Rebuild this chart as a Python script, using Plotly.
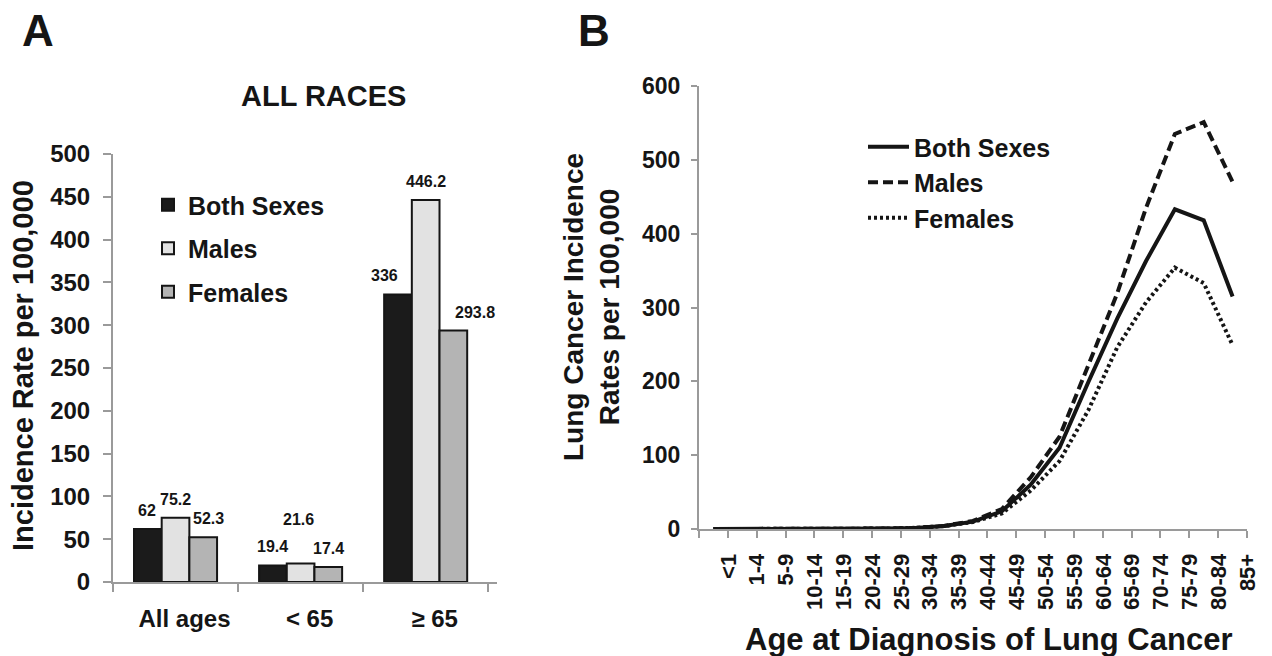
import plotly.graph_objects as go

# ---------------- data ----------------
groups = ["All ages", "< 65", "≥ 65"]
series_names = ["Both Sexes", "Males", "Females"]
bar_both = [62, 19.4, 336]
bar_males = [75.2, 21.6, 446.2]
bar_females = [52.3, 17.4, 293.8]

ages = ["<1", "1-4", "5-9", "10-14", "15-19", "20-24", "25-29", "30-34", "35-39",
        "40-44", "45-49", "50-54", "55-59", "60-64", "65-69", "70-74", "75-79",
        "80-84", "85+"]
line_both = [0.0, 0.0, 0.0, 0.0, 0.1, 0.3, 0.6, 1.5, 4.0, 10, 24, 60, 110, 199, 285, 363, 433, 418, 315]
line_males = [0.0, 0.0, 0.0, 0.0, 0.1, 0.3, 0.6, 1.5, 4.2, 11, 27, 70, 125, 222, 319, 435, 535, 551, 470]
line_females = [0.0, 0.0, 0.0, 0.0, 0.1, 0.3, 0.6, 1.6, 3.9, 9.5, 21, 52, 92, 161, 246, 307, 354, 333, 249]

left_ticks = list(range(0, 501, 50))
right_ticks = list(range(0, 601, 100))

# ---------------- styles ----------------
W, H = 1272, 656
FONT = "Liberation Sans"
INK = "#151515"
AXIS = "#9a9a9a"
bar_colors = ["#1b1b1b", "#e2e2e2", "#b4b4b4"]
line_dashes = ["solid", "10px,5px", "3px,3px"]

# plot areas in pixels (left, right, top, bottom)
LA = (113, 497, 154, 582)
RA = (699, 1247, 86, 529)


def xdom(a):
    return [a[0] / W, a[1] / W]


def ydom(a):
    return [1 - a[3] / H, 1 - a[2] / H]


BARGAP = 0.336
cat_px = (LA[1] - LA[0]) / len(groups)
bar_px = cat_px * (1 - BARGAP) / 3

# label offsets (style) for value labels, per series / group
label_dx = [[0, 0, -13], [0, -2, 0], [5, 0, 21]]
label_dy = [[0, 0, 0], [0, 26, 0], [0, 0, 0]]

fig = go.Figure()

bar_series = [bar_both, bar_males, bar_females]
for j, (name, vals) in enumerate(zip(series_names, bar_series)):
    fig.add_trace(go.Bar(
        x=groups, y=vals, name=name,
        marker=dict(color=bar_colors[j], line=dict(color=INK, width=2)),
        xaxis="x", yaxis="y", legend="legend", legendgroup="b" + str(j),
        hoverinfo="x+y+name",
    ))

line_series = [line_both, line_males, line_females]
for j, (name, vals) in enumerate(zip(series_names, line_series)):
    fig.add_trace(go.Scatter(
        x=ages, y=vals, name=name, mode="lines",
        line=dict(color=INK, width=4, dash=line_dashes[j]),
        xaxis="x2", yaxis="y2", legend="legend2",
    ))

annotations = []
for j, vals in enumerate(bar_series):
    for i, v in enumerate(vals):
        annotations.append(dict(
            x=groups[i], y=v, xref="x", yref="y", text=f"{v:g}", showarrow=False,
            yanchor="bottom", xanchor="center",
            xshift=(j - 1) * bar_px + label_dx[j][i], yshift=8 + label_dy[j][i],
            font=dict(family=FONT, size=16, color=INK, weight="bold"),
        ))

annotations += [
    dict(text="A", x=20 / W, y=1 - 4 / H, xref="paper", yref="paper", xanchor="left", yanchor="top",
         showarrow=False, font=dict(family=FONT, size=44, color=INK, weight="bold")),
    dict(text="B", x=576 / W, y=1 - 4 / H, xref="paper", yref="paper", xanchor="left", yanchor="top",
         showarrow=False, font=dict(family=FONT, size=44, color=INK, weight="bold")),
    dict(text="ALL RACES", x=323 / W, y=1 - 96 / H, xref="paper", yref="paper", xanchor="center",
         yanchor="middle", showarrow=False, font=dict(family=FONT, size=29, color=INK, weight="bold")),
    dict(text="Incidence Rate per 100,000", x=23 / W, y=1 - 366 / H, xref="paper", yref="paper",
         xanchor="center", yanchor="middle", textangle=-90, showarrow=False,
         font=dict(family=FONT, size=29, color=INK, weight="bold")),
    dict(text="Lung Cancer Incidence<br>Rates per 100,000", x=591 / W, y=1 - 307 / H, xref="paper",
         yref="paper", xanchor="center", yanchor="middle", textangle=-90, showarrow=False,
         font=dict(family=FONT, size=28, color=INK, weight="bold")),
    dict(text="Age at Diagnosis of Lung Cancer", x=988 / W, y=1 - 639 / H, xref="paper", yref="paper",
         xanchor="center", yanchor="middle", showarrow=False,
         font=dict(family=FONT, size=31, color=INK, weight="bold")),
]

common_axis = dict(showline=True, linecolor=AXIS, linewidth=2, ticks="outside", tickcolor=AXIS,
                   tickwidth=2, showgrid=False, zeroline=False, automargin=False)

fig.update_layout(
    width=W, height=H,
    margin=dict(l=0, r=0, t=0, b=0),
    paper_bgcolor="white", plot_bgcolor="white",
    font=dict(family=FONT, color=INK),
    barmode="group", bargap=BARGAP, bargroupgap=0,
    xaxis=dict(domain=xdom(LA), anchor="y", type="category", tickson="boundaries", ticklen=8,
               tickfont=dict(family=FONT, size=24, color=INK, weight="bold"),
               ticklabelstandoff=14, ticklabelshift=9, **common_axis),
    yaxis=dict(domain=ydom(LA), anchor="x", range=[0, 500], tickvals=left_ticks, ticklen=8,
               tickfont=dict(family=FONT, size=24, color=INK, weight="bold"),
               ticklabelstandoff=8, **common_axis),
    xaxis2=dict(domain=xdom(RA), anchor="y2", type="category", tickson="boundaries", ticklen=7,
                tickangle=-90, tickfont=dict(family=FONT, size=22, color=INK, weight="bold"),
                ticklabelstandoff=14, ticklabelshift=15, range=[-0.5, len(ages) - 0.5], **common_axis),
    yaxis2=dict(domain=ydom(RA), anchor="x2", range=[0, 600], tickvals=right_ticks, ticklen=6,
                tickfont=dict(family=FONT, size=23, color=INK, weight="bold"),
                ticklabelstandoff=6, **common_axis),
    legend=dict(x=148 / W, y=1 - 182 / H, xanchor="left", yanchor="top", bgcolor="rgba(0,0,0,0)",
                font=dict(family=FONT, size=25, color=INK, weight="bold"), tracegroupgap=8,
                itemclick=False),
    legend2=dict(x=863 / W, y=1 - 124 / H, xanchor="left", yanchor="top", bgcolor="rgba(0,0,0,0)",
                 font=dict(family=FONT, size=25, color=INK, weight="bold"), itemwidth=41,
                 tracegroupgap=0),
    annotations=annotations,
    showlegend=True,
)

fig.write_html("out.html", config={"displayModeBar": False},
               post_script="document.body.style.margin='0px';")
